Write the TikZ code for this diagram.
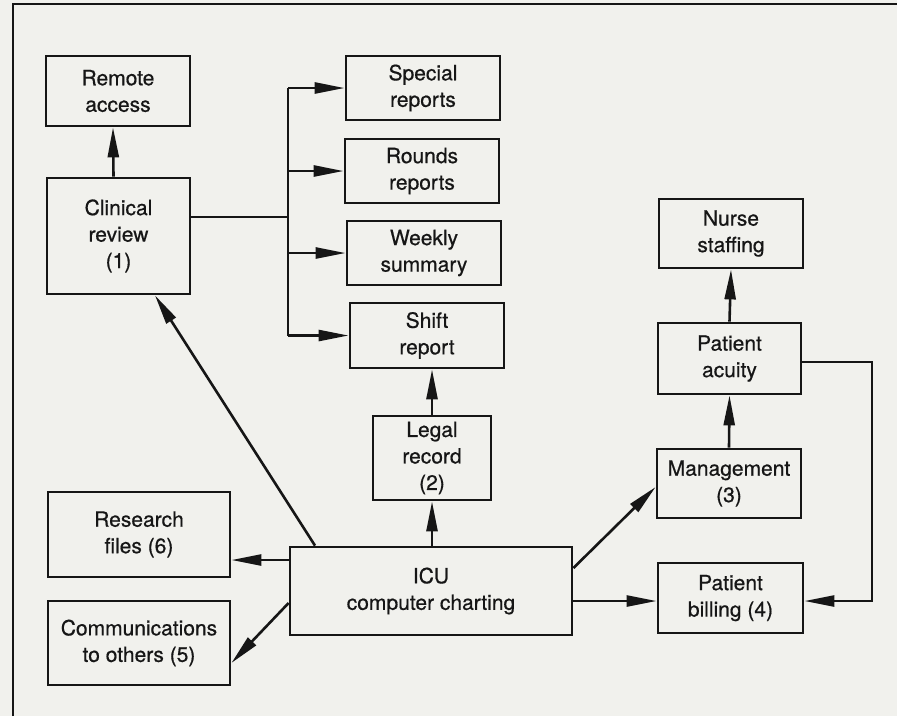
\documentclass[tikz,border=0pt]{standalone}
\usepackage{fontspec}
\setmainfont{TeX Gyre Heros}[FakeBold=0.6]
\usetikzlibrary{arrows.meta}

\definecolor{paper}{RGB}{241,241,237}
\definecolor{ink}{RGB}{22,22,22}

\tikzset{
  box/.style={draw=ink, line width=2.8pt, fill=paper, align=center, inner sep=2pt,
              text=ink, font=\fontsize{21}{26.5}\selectfont},
  link/.style={draw=ink, line width=2.6pt},
  arr/.style={link, -{Triangle[length=30pt,width=11pt]}},
}

\begin{document}
\begin{tikzpicture}[x=1pt, y=-1pt]
  \useasboundingbox (0,0) rectangle (897,716);
  \fill[paper] (0,0) rectangle (897,716);

  % outer frame
  \draw[link, line width=2.6pt] (13,716) -- (13,4) -- (897,4);

  % left column
  \node[box, minimum width=144pt, minimum height=70pt]  (remote)   at (118,91)    {Remote\\access};
  \node[box, minimum width=143pt, minimum height=116pt] (clinical) at (118.5,236) {Clinical\\review\\(1)};
  \node[box, minimum width=182pt, minimum height=85pt]  (research) at (139,534.5) {Research\\files (6)};
  \node[box, minimum width=182pt, minimum height=84pt]  (comm)     at (139,643)   {Communications\\to others (5)};

  % report column
  \node[box, minimum width=154pt, minimum height=64pt] (special) at (423,88)    {Special\\reports};
  \node[box, minimum width=154pt, minimum height=64pt] (rounds)  at (422,171)   {Rounds\\reports};
  \node[box, minimum width=154pt, minimum height=64pt] (weekly)  at (424,253)   {Weekly\\summary};
  \node[box, minimum width=154pt, minimum height=65pt] (shift)   at (427,335.5) {Shift\\report};
  \node[box, minimum width=118pt, minimum height=84pt] (legal)   at (432,458)   {Legal\\record\\(2)};
  \node[box, minimum width=282pt, minimum height=88pt] (icu)     at (431,591)   {ICU\\computer charting};

  % management column
  \node[box, minimum width=144pt, minimum height=69pt] (nurse)   at (731,233.5)  {Nurse\\staffing};
  \node[box, minimum width=143pt, minimum height=71pt] (acuity)  at (729.5,358.5){Patient\\acuity};
  \node[box, minimum width=144pt, minimum height=69pt] (mgmt)    at (729,483.5)  {Management\\(3)};
  \node[box, minimum width=145pt, minimum height=70pt] (billing) at (730.5,598)  {Patient\\billing (4)};

  % bus from clinical review to the reports
  \coordinate (bus) at (288,217);
  \coordinate (rc)  at (872,0);
  \draw[link] ([yshift=19pt]clinical.east) -- (bus);
  \draw[link] (bus |- special.west) -- (bus |- shift.west);
  \draw[arr] (bus |- special.west) -- (special.west);
  \draw[arr] (bus |- rounds.west)  -- (rounds.west);
  \draw[arr] (bus |- weekly.west)  -- (weekly.west);
  \draw[arr] (bus |- shift.west)   -- (shift.west);

  % clinical review to remote access
  \draw[arr] ([xshift=-5pt]clinical.north) -- ([xshift=-5pt]remote.south);

  % from the charting system
  \draw[arr] (legal.south |- icu.north) -- (legal.south);
  \draw[arr] (legal.north) -- (legal.north |- shift.south);
  \draw[arr] ([xshift=-116pt]icu.north) -- ([xshift=36.5pt]clinical.south);
  \draw[arr] ([yshift=31pt]icu.west) coordinate (r0) -- (r0 -| research.east);
  \draw[arr] ([yshift=-12pt]icu.west) -- ([yshift=-20pt]comm.east);
  \draw[arr] ([yshift=23pt]icu.east) -- ([yshift=-3.5pt]mgmt.west);
  \draw[arr] ([yshift=-10pt]icu.east) coordinate (b0) -- (b0 -| billing.west);

  % management chain
  \draw[arr] (mgmt.north) -- (acuity.south);
  \draw[arr] (acuity.north) -- (nurse.south);
  \draw[arr] ([yshift=-3.5pt]acuity.east) coordinate (a0) -- (a0 -| rc) |- ([yshift=-3pt]billing.east);
\end{tikzpicture}
\end{document}
